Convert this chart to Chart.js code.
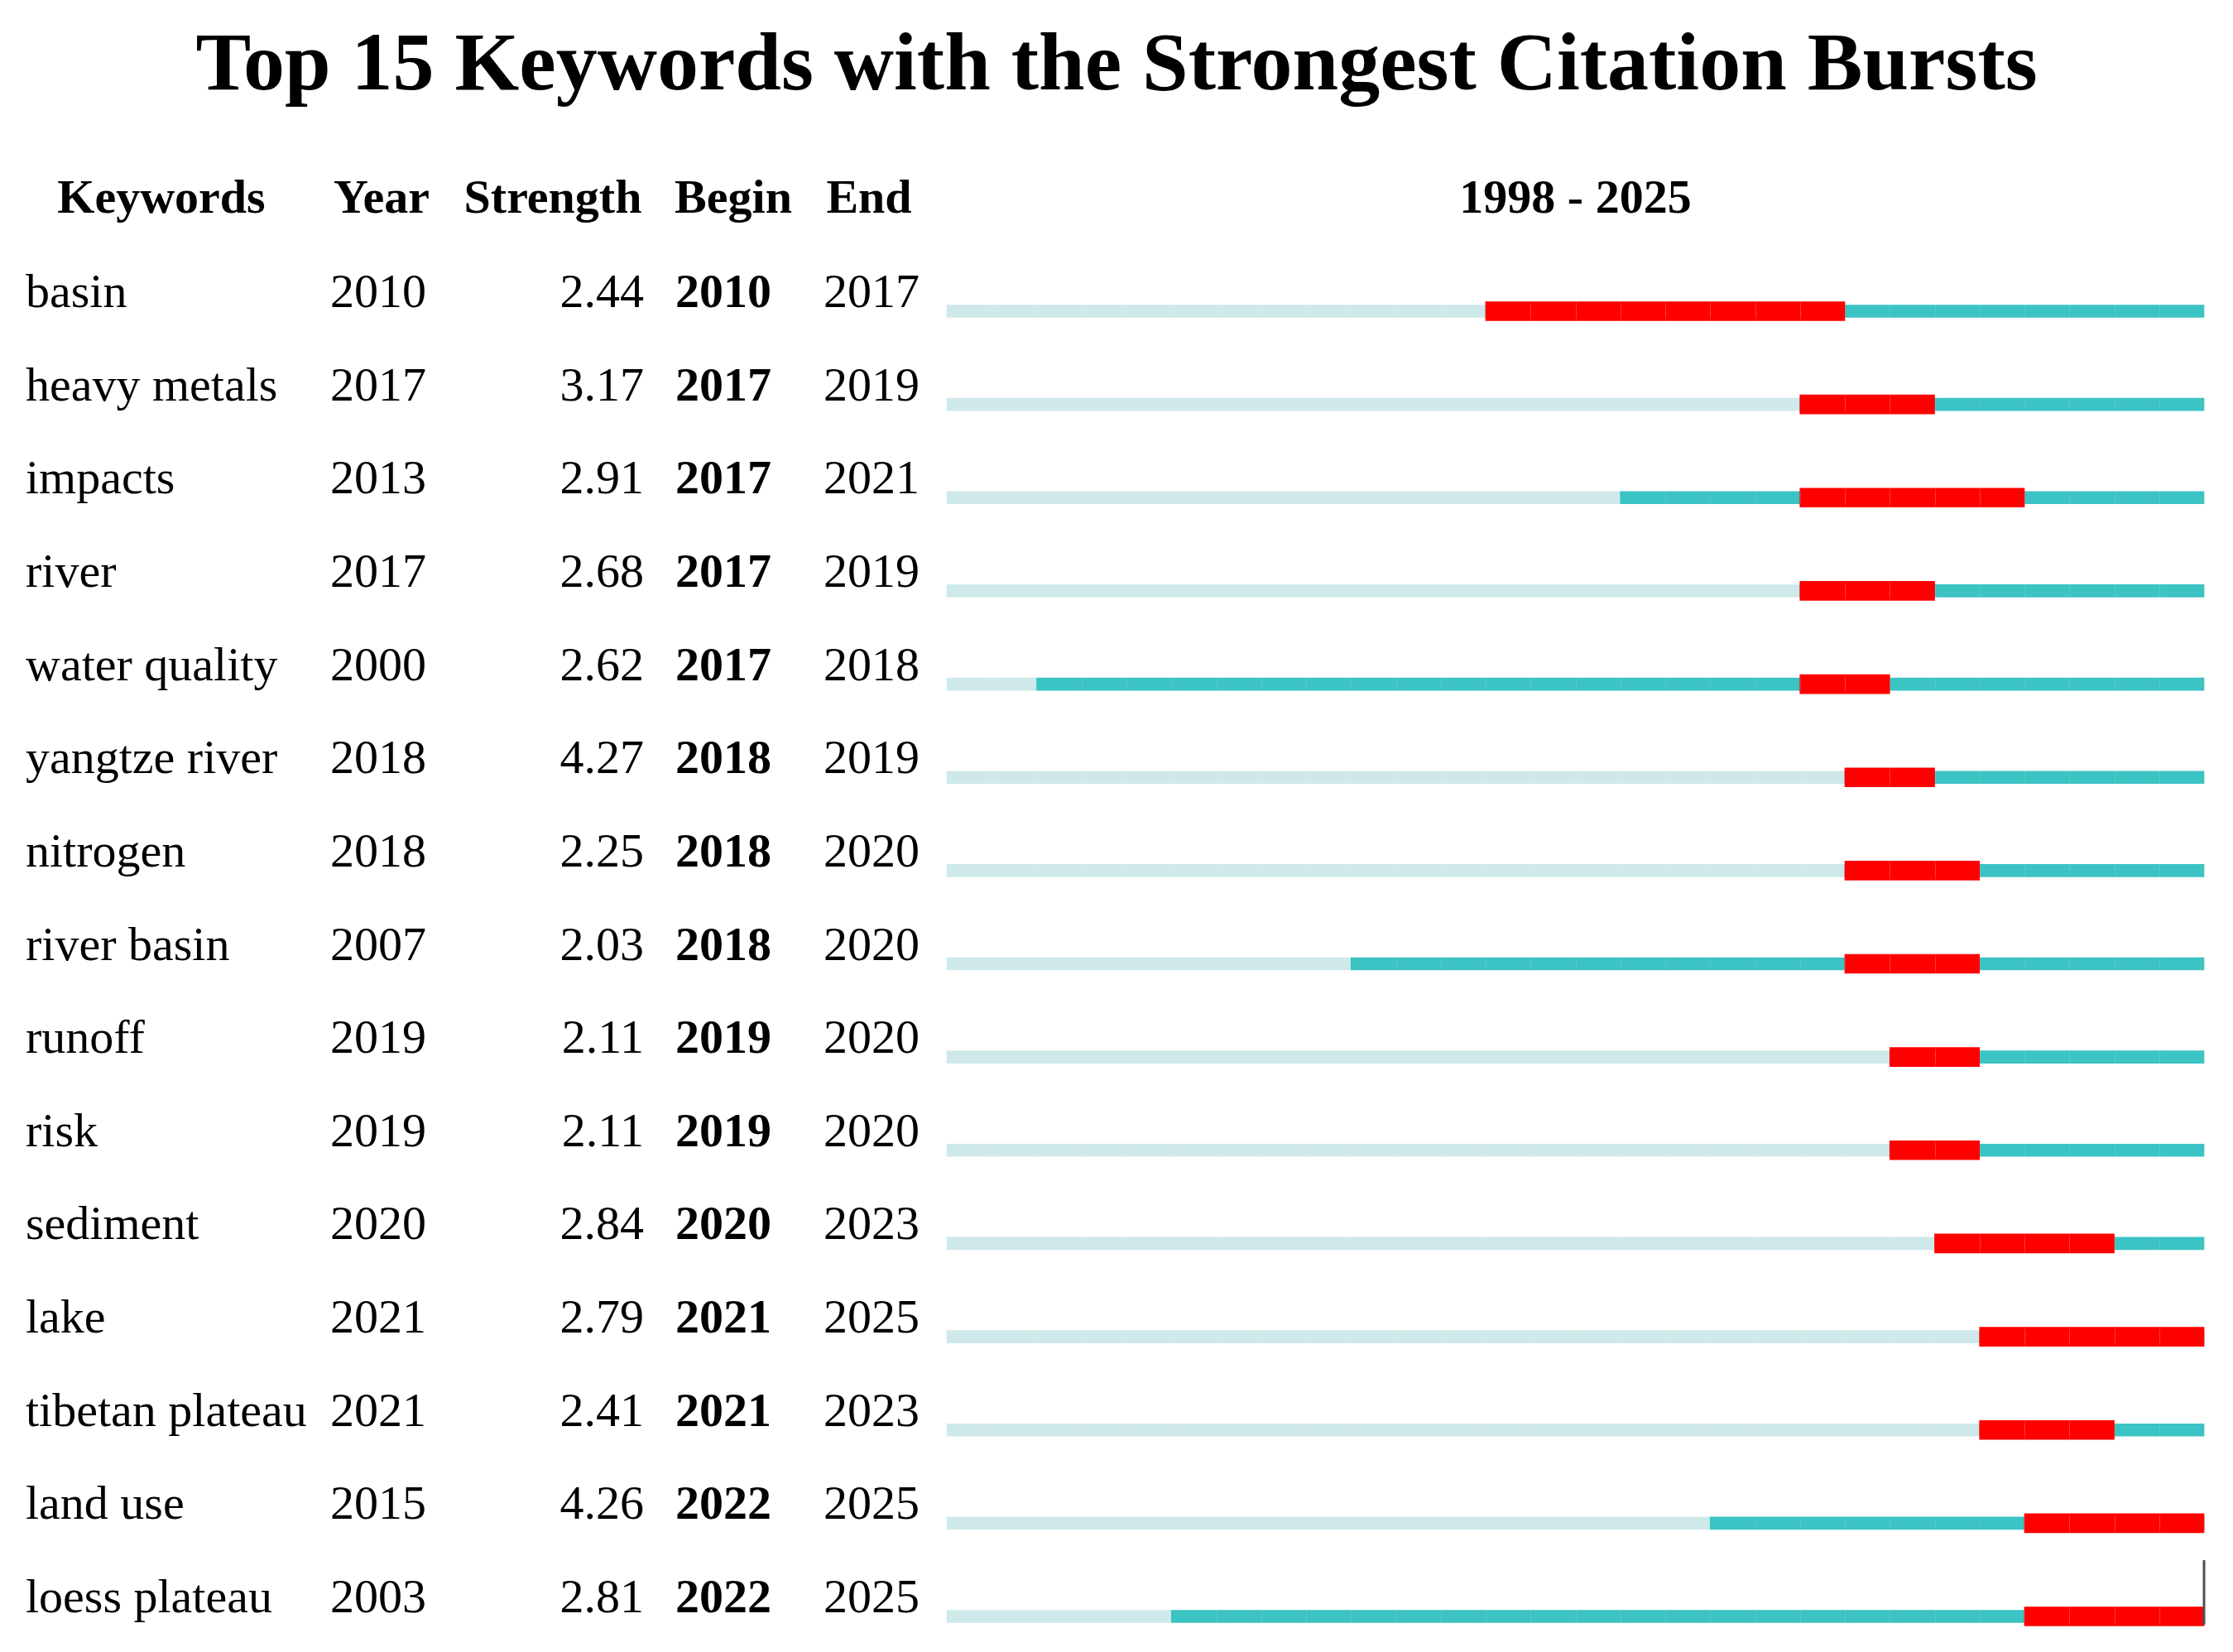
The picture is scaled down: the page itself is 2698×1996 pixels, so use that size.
<!DOCTYPE html>
<html>
<head>
<meta charset="utf-8">
<script src="https://cdn.jsdelivr.net/npm/chart.js@4/dist/chart.umd.min.js"></script>
<style>
html,body{margin:0;padding:0;background:#fff;}
#wrap{position:relative;width:2698px;height:1996px;}
</style>
</head>
<body>
<div id="wrap"><canvas id="c"></canvas></div>
<script>
const titleText = 'Top 15 Keywords with the Strongest Citation Bursts';
const headers = ['Keywords', 'Year', 'Strength', 'Begin', 'End'];
const rangeLabel = '1998 - 2025';
const startYear = 1998;
const endYear = 2025;
const keywords = ['basin','heavy metals','impacts','river','water quality','yangtze river','nitrogen','river basin','runoff','risk','sediment','lake','tibetan plateau','land use','loess plateau'];
const years = [2010,2017,2013,2017,2000,2018,2018,2007,2019,2019,2020,2021,2021,2015,2003];
const strengths = [2.44,3.17,2.91,2.68,2.62,4.27,2.25,2.03,2.11,2.11,2.84,2.79,2.41,4.26,2.81];
const begins = [2010,2017,2017,2017,2017,2018,2018,2018,2019,2019,2020,2021,2021,2022,2022];
const ends = [2017,2019,2021,2019,2018,2019,2020,2020,2020,2020,2023,2025,2023,2025,2025];

const FONT = '"Liberation Serif", "Times New Roman", serif';

const lightData = keywords.map((k, i) => [startYear, years[i]]);
const tealData = keywords.map((k, i) => [years[i], endYear + 1]);
const redData = keywords.map((k, i) => [begins[i], ends[i] + 1]);

const textPlugin = {
  id: 'tableText',
  afterDatasetsDraw(chart) {
    const ctx = chart.ctx;
    const x = chart.scales.x, y = chart.scales.y;
    // faint cell separators
    ctx.save();
    ctx.strokeStyle = 'rgba(255,255,255,0.13)';
    ctx.lineWidth = 1;
    chart.data.datasets.forEach((ds, di) => {
      const meta = chart.getDatasetMeta(di);
      meta.data.forEach((bar, i) => {
        const v = ds.data[i];
        const top = bar.y - bar.height / 2, bot = bar.y + bar.height / 2;
        for (let yr = v[0] + 1; yr < v[1]; yr++) {
          const px = Math.round(x.getPixelForValue(yr)) + 0.5;
          ctx.beginPath(); ctx.moveTo(px, top); ctx.lineTo(px, bot); ctx.stroke();
        }
      });
    });
    ctx.restore();
    // end marker line on last row
    ctx.save();
    const last = keywords.length - 1;
    const ex = x.getPixelForValue(endYear + 1);
    const ly = y.getPixelForValue(last);
    ctx.strokeStyle = '#505050';
    ctx.lineWidth = 3;
    ctx.beginPath(); ctx.moveTo(ex, ly - 68); ctx.lineTo(ex, ly + 10); ctx.stroke();
    ctx.restore();
  },
  afterDraw(chart) {
    const ctx = chart.ctx;
    const x = chart.scales.x, y = chart.scales.y;
    ctx.save();
    ctx.fillStyle = '#000';
    ctx.textBaseline = 'alphabetic';
    ctx.font = 'bold 100px ' + FONT;
    ctx.textAlign = 'center';
    ctx.fillText(titleText, chart.width / 2, 108);
    const row0 = y.getPixelForValue(0);
    const hy = row0 - 119;
    ctx.font = 'bold 58px ' + FONT;
    ctx.textAlign = 'center';
    const hx = [195, 461, 668, 886, 1050];
    headers.forEach((h, i) => ctx.fillText(h, hx[i], hy));
    ctx.fillText(rangeLabel, (x.getPixelForValue(startYear) + x.getPixelForValue(endYear + 1)) / 2, hy);
    keywords.forEach((k, i) => {
      const by = y.getPixelForValue(i) - 5;
      ctx.font = '58px ' + FONT;
      ctx.textAlign = 'left';
      ctx.fillText(k, 31, by);
      ctx.fillText(String(years[i]), 399, by);
      ctx.textAlign = 'right';
      ctx.fillText(strengths[i].toFixed(2), 778, by);
      ctx.textAlign = 'left';
      ctx.font = 'bold 58px ' + FONT;
      ctx.fillText(String(begins[i]), 816, by);
      ctx.font = '58px ' + FONT;
      ctx.fillText(String(ends[i]), 995, by);
    });
    ctx.restore();
  }
};

new Chart(document.getElementById('c'), {
  type: 'bar',
  data: {
    labels: keywords,
    datasets: [
      { label: 'burst', data: redData, backgroundColor: '#ff0000', barThickness: 23, grouped: false, order: 0, clip: false, borderWidth: 0 },
      { label: 'active', data: tealData, backgroundColor: '#3cc3c4', barThickness: 15, grouped: false, order: 1, clip: false, borderWidth: 0 },
      { label: 'before', data: lightData, backgroundColor: '#cfe9ea', barThickness: 15, grouped: false, order: 2, clip: false, borderWidth: 0 }
    ]
  },
  options: {
    indexAxis: 'y',
    responsive: true,
    maintainAspectRatio: false,
    animation: false,
    layout: { padding: { left: 1144, right: 35, top: 376, bottom: 43 } },
    plugins: { legend: { display: false }, tooltip: { enabled: false }, title: { display: false } },
    scales: {
      x: { type: 'linear', min: startYear, max: endYear + 1, display: false },
      y: { type: 'category', offset: false, display: false }
    }
  },
  plugins: [textPlugin]
});
</script>
</body>
</html>
